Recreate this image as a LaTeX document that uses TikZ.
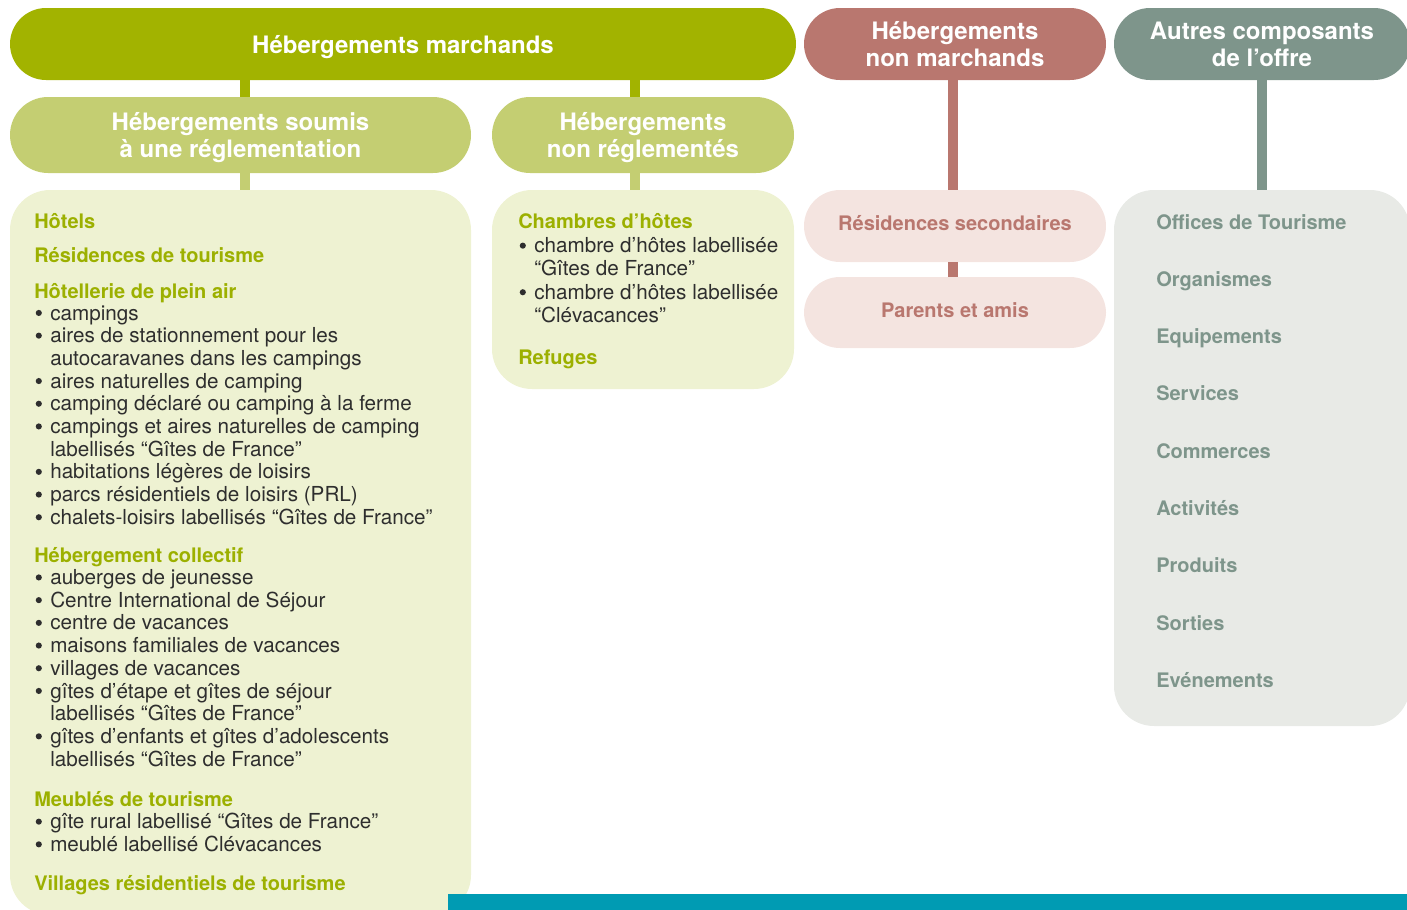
\documentclass[tikz,border=0pt]{standalone}
\usepackage{fontspec}
\setmainfont{TeX Gyre Heros}
\usetikzlibrary{fit,positioning}

\definecolor{marchand}{HTML}{A2B300}
\definecolor{soumis}{HTML}{C4CE72}
\definecolor{panelgreen}{HTML}{EEF2D2}
\definecolor{headgreen}{HTML}{9CB000}
\definecolor{nonmarch}{HTML}{B9776F}
\definecolor{panelpink}{HTML}{F4E4E0}
\definecolor{autres}{HTML}{7E958B}
\definecolor{panelgray}{HTML}{E8EAE6}
\definecolor{barteal}{HTML}{009BB3}
\definecolor{bodytext}{HTML}{2E2E2E}

\begin{document}
\begin{tikzpicture}[x=0.75pt,y=-0.75pt,
    pill/.style={inner sep=0pt,rounded corners=27pt,text=white,align=center,text depth=0pt,
                 font=\bfseries\fontsize{18}{20.25}\selectfont},
    panel/.style={inner sep=0pt,rounded corners=30pt},
    stem/.style={line width=7.5pt},
    head/.style={anchor=base west,inner sep=0pt,text=headgreen,
                 font=\bfseries\fontsize{15}{18}\selectfont},
    entry/.style={anchor=base west,inner sep=0pt,text=bodytext,
                  font=\fontsize{15.5}{18}\selectfont},
    dot/.style={fill=bodytext},
    tag/.style={inner sep=0pt,font=\bfseries\fontsize{15}{18}\selectfont}]

\useasboundingbox (0,0) rectangle (1407,910);
\clip (0,0) rectangle (1407,910);

% top row
\node[pill,fill=marchand,minimum width={786*0.75pt},minimum height={72*0.75pt}] (March) at (403,44) {Hébergements marchands};
\node[pill,fill=nonmarch,minimum width={302*0.75pt},minimum height={72*0.75pt}] (NonMarch) at (955,44) {Hébergements\\non marchands};
\node[pill,fill=autres,minimum width={296*0.75pt},minimum height={72*0.75pt}] (Autres) at (1262,44) {Autres composants\\de l’offre};

% second row
\node[pill,rounded corners=28.5pt,fill=soumis,minimum width={461*0.75pt},minimum height={76*0.75pt}] (Soumis) at (240.5,135) {Hébergements soumis\\à une réglementation};
\node[pill,rounded corners=28.5pt,fill=soumis,minimum width={302*0.75pt},minimum height={76*0.75pt}] (NonRegl) at (643,135) {Hébergements\\non réglementés};

% panels
\node[panel,fill=panelgreen,fit={(10,190) (471,915)}] (ListA) {};
\node[panel,fill=panelgreen,fit={(492,190) (794,389)}] (ListB) {};
\node[pill,fill=panelpink,fit={(804,190) (1106,262)}] (Secondaires) {};
\node[pill,fill=panelpink,fit={(804,277) (1106,348)}] (Parents) {};
\node[panel,fill=panelgray,fit={(1114,190) (1410,726)}] (Offre) {};

\node[tag,text=nonmarch] (SecText) at ([yshift=2pt]Secondaires.center) {Résidences secondaires};
\node[tag,text=nonmarch] (ParText) at ([yshift=2pt]Parents.center) {Parents et amis};

% stems
\draw[stem,marchand] ([xshift=3.4pt]Soumis.north) -- ([xshift=3.4pt]Soumis.north |- March.south);
\draw[stem,marchand] ([xshift=-6pt]NonRegl.north) -- ([xshift=-6pt]NonRegl.north |- March.south);
\draw[stem,soumis] ([xshift=3.4pt]Soumis.south) -- ([xshift=3.4pt]Soumis.south |- ListA.north);
\draw[stem,soumis] ([xshift=-6pt]NonRegl.south) -- ([xshift=-6pt]NonRegl.south |- ListB.north);
\draw[stem,nonmarch] ([xshift=-1.5pt]NonMarch.south) -- ([xshift=-1.5pt]Secondaires.north);
\draw[stem,nonmarch] ([xshift=-1.5pt]Secondaires.south) -- ([xshift=-1.5pt]Parents.north);
\draw[stem,autres] (Autres.south) -- (Offre.north);

% regulated accommodation
\node[head] (Hotels) at (34,228) {Hôtels};
\node[head] (Residences) at (34,262) {Résidences de tourisme};
\node[head] (PleinAir) at (34,298) {Hôtellerie de plein air};
\foreach \b/\y/\t [count=\i] in {
    1/320/campings,
    1/342.7/aires de stationnement pour les,
    0/365.4/autocaravanes dans les campings,
    1/388.1/aires naturelles de camping,
    1/410.8/camping déclaré ou camping à la ferme,
    1/433.5/campings et aires naturelles de camping,
    0/456.2/labellisés “Gîtes de France”,
    1/478.9/habitations légères de loisirs,
    1/501.6/parcs résidentiels de loisirs (PRL),
    1/524.3/chalets-loisirs labellisés “Gîtes de France”}
  {\node[entry] (pa\i) at (50,\y) {\t};
   \ifnum\b=1 \fill[dot] ([xshift=-8.4pt,yshift=5.3pt]pa\i.base west) circle (2.3pt);\fi}

\node[head] (Collectif) at (34,562) {Hébergement collectif};
\foreach \b/\y/\t [count=\i] in {
    1/584.5/auberges de jeunesse,
    1/607.2/Centre International de Séjour,
    1/629.9/centre de vacances,
    1/652.6/maisons familiales de vacances,
    1/675.3/villages de vacances,
    1/698/gîtes d’étape et gîtes de séjour,
    0/720.7/labellisés “Gîtes de France”,
    1/743.4/gîtes d’enfants et gîtes d’adolescents,
    0/766.1/labellisés “Gîtes de France”}
  {\node[entry] (hc\i) at (50,\y) {\t};
   \ifnum\b=1 \fill[dot] ([xshift=-8.4pt,yshift=5.3pt]hc\i.base west) circle (2.3pt);\fi}

\node[head] (Meubles) at (34,806) {Meublés de tourisme};
\foreach \b/\y/\t [count=\i] in {
    1/828.7/gîte rural labellisé “Gîtes de France”,
    1/851.4/meublé labellisé Clévacances}
  {\node[entry] (mt\i) at (50,\y) {\t};
   \ifnum\b=1 \fill[dot] ([xshift=-8.4pt,yshift=5.3pt]mt\i.base west) circle (2.3pt);\fi}
\node[head] (Villages) at (34,890) {Villages résidentiels de tourisme};

% non regulated accommodation
\node[head] (Chambres) at (518,228) {Chambres d’hôtes};
\foreach \b/\y/\t [count=\i] in {
    1/252.7/chambre d’hôtes labellisée,
    0/275.7/“Gîtes de France”,
    1/299.3/chambre d’hôtes labellisée,
    0/322.3/“Clévacances”}
  {\node[entry] (ch\i) at (534,\y) {\t};
   \ifnum\b=1 \fill[dot] ([xshift=-8.4pt,yshift=5.3pt]ch\i.base west) circle (2.3pt);\fi}
\node[head] (Refuges) at (518,364) {Refuges};

% other components
\foreach \t [count=\i] in {Offices de Tourisme,Organismes,Equipements,Services,
    Commerces,Activités,Produits,Sorties,Evénements}
  \node[head,text=autres] (of\i) at (1156,{229+57.3*(\i-1)}) {\t};

\fill[barteal] (448,894) rectangle (1407,910);
\end{tikzpicture}
\end{document}
